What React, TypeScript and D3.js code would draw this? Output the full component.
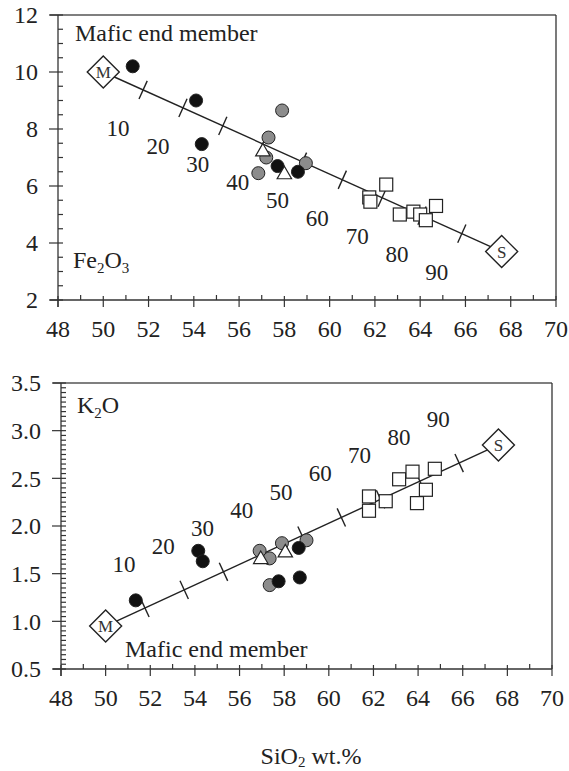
import React, { useEffect, useRef } from "react";
import * as d3 from "d3";

// SiO2 axis shared by both panels
const sio2Ticks = [48, 50, 52, 54, 56, 58, 60, 62, 64, 66, 68, 70];
const feTicks = [2, 4, 6, 8, 10, 12];
const kTicks = [0.5, 1.0, 1.5, 2.0, 2.5, 3.0, 3.5];
const mixPercents = [10, 20, 30, 40, 50, 60, 70, 80, 90];

// end members [SiO2, oxide]
const feMafic = [50, 10.0];
const feSilicic = [67.6, 3.7];
const kMafic = [50, 0.95];
const kSilicic = [67.6, 2.85];

// Fe2O3 samples
const feBlack = [[51.3, 10.2], [54.1, 9.0], [54.35, 7.47], [57.7, 6.7], [58.6, 6.5]];
const feGray = [[57.9, 8.65], [57.3, 7.7], [57.2, 7.0], [56.85, 6.45], [58.95, 6.8]];
const feTriangle = [[57.05, 7.2], [58.0, 6.4]];
const feSquare = [[61.75, 5.6], [61.8, 5.45], [62.5, 6.05], [63.1, 5.0], [63.7, 5.1], [64.0, 5.0], [64.25, 4.8], [64.7, 5.3]];

// K2O samples
const kBlack = [[51.35, 1.22], [54.15, 1.74], [54.35, 1.63], [57.75, 1.42], [58.7, 1.46], [58.65, 1.77]];
const kGray = [[56.9, 1.74], [57.35, 1.66], [57.9, 1.82], [59.0, 1.85], [57.35, 1.38]];
const kTriangle = [[56.95, 1.65], [58.05, 1.72]];
const kSquare = [[61.8, 2.31], [61.8, 2.16], [62.55, 2.26], [63.15, 2.49], [63.75, 2.57], [64.35, 2.38], [63.95, 2.24], [64.75, 2.6]];

const FONT = "'Liberation Serif', 'Times New Roman', serif";

function drawPanel(svg, o) {
  const x = d3.scaleLinear().domain([48, 70]).range([o.left, o.right]);
  const y = d3.scaleLinear().domain(o.yDomain).range([o.bottom, o.top]);
  const g = svg.append("g");
  const axisColor = "#333";

  // frame: top and right
  g.append("line").attr("x1", o.left - 8).attr("x2", o.right).attr("y1", o.top).attr("y2", o.top)
    .attr("stroke", "#555").attr("stroke-width", 1.5);
  g.append("line").attr("x1", o.right).attr("x2", o.right).attr("y1", o.top).attr("y2", o.bottom)
    .attr("stroke", axisColor).attr("stroke-width", 1.3);

  // x axis
  g.append("line").attr("x1", o.left - 8).attr("x2", o.right).attr("y1", o.bottom).attr("y2", o.bottom)
    .attr("stroke", axisColor).attr("stroke-width", 1.3);
  d3.range(48, 71, 1).forEach((v) => {
    const major = v % 2 === 0;
    g.append("line").attr("x1", x(v)).attr("x2", x(v))
      .attr("y1", o.bottom - (major ? 4 : 5)).attr("y2", o.bottom + (major ? 7 : 0))
      .attr("stroke", axisColor).attr("stroke-width", 1.2);
  });
  g.selectAll(".xl").data(sio2Ticks).join("text")
    .attr("x", (d) => x(d)).attr("y", o.bottom + 37)
    .attr("text-anchor", "middle").attr("font-family", FONT).attr("font-size", 24).attr("fill", "#222")
    .text((d) => d);

  // y axis
  g.append("line").attr("x1", o.left).attr("x2", o.left).attr("y1", o.top).attr("y2", o.bottom + 7)
    .attr("stroke", axisColor).attr("stroke-width", 1.3);
  const [y0, y1] = o.yDomain;
  const nMinor = Math.round((y1 - y0) / o.minorStep);
  for (let i = 0; i <= nMinor; i++) {
    const v = y0 + i * o.minorStep;
    const major = o.yTicks.some((t) => Math.abs(t - v) < 1e-6);
    g.append("line").attr("x1", o.left - (major ? 9 : 0)).attr("x2", o.left + 5)
      .attr("y1", y(v)).attr("y2", y(v)).attr("stroke", axisColor).attr("stroke-width", 1.2);
  }
  g.selectAll(".yl").data(o.yTicks).join("text")
    .attr("x", o.left - 20).attr("y", (d) => y(d)).attr("dy", "0.35em")
    .attr("text-anchor", "end").attr("font-family", FONT).attr("font-size", 24).attr("fill", "#222")
    .text((d) => o.yFormat(d));

  // mixing line
  const [mx, my] = [x(o.mafic[0]), y(o.mafic[1])];
  const [sx, sy] = [x(o.silicic[0]), y(o.silicic[1])];
  g.append("line").attr("x1", mx).attr("y1", my).attr("x2", sx).attr("y2", sy)
    .attr("stroke", "#222").attr("stroke-width", 1.4);
  const len = Math.hypot(sx - mx, sy - my);
  const px = -(sy - my) / len;
  const py = (sx - mx) / len;
  mixPercents.forEach((p) => {
    const f = p / 100;
    const cx = mx + f * (sx - mx);
    const cy = my + f * (sy - my);
    g.append("line").attr("x1", cx - px * 10).attr("y1", cy - py * 10)
      .attr("x2", cx + px * 10).attr("y2", cy + py * 10)
      .attr("stroke", "#222").attr("stroke-width", 1.4);
    g.append("text").attr("x", cx + o.labelOffset[0]).attr("y", cy + o.labelOffset[1]).attr("dy", "0.35em")
      .attr("text-anchor", "middle").attr("font-family", FONT).attr("font-size", 23).attr("fill", "#222")
      .text(p);
  });

  // samples
  const circle = (data, fill) =>
    g.append("g").selectAll("circle").data(data).join("circle")
      .attr("cx", (d) => x(d[0])).attr("cy", (d) => y(d[1])).attr("r", 6.5)
      .attr("fill", fill).attr("stroke", "#222").attr("stroke-width", 1);
  circle(o.gray, "#8c8c8c");
  circle(o.black, "#111");
  g.append("g").selectAll("path").data(o.triangles).join("path")
    .attr("d", d3.symbol(d3.symbolTriangle, 90)())
    .attr("transform", (d) => `translate(${x(d[0])},${y(d[1])})`)
    .attr("fill", "#fff").attr("stroke", "#222").attr("stroke-width", 1.2);
  g.append("g").selectAll("rect").data(o.squares).join("rect")
    .attr("x", (d) => x(d[0]) - 6.5).attr("y", (d) => y(d[1]) - 6.5)
    .attr("width", 13).attr("height", 13)
    .attr("fill", "#fff").attr("stroke", "#222").attr("stroke-width", 1.2);

  // end member diamonds
  [[o.mafic, "M"], [o.silicic, "S"]].forEach(([pt, lab]) => {
    const cx = x(pt[0]);
    const cy = y(pt[1]);
    g.append("path")
      .attr("d", `M${cx},${cy - 16}L${cx + 16},${cy}L${cx},${cy + 16}L${cx - 16},${cy}Z`)
      .attr("fill", "#fff").attr("stroke", "#222").attr("stroke-width", 1.4);
    g.append("text").attr("x", cx).attr("y", cy).attr("dy", "0.35em").attr("text-anchor", "middle")
      .attr("font-family", FONT).attr("font-size", 17).attr("fill", "#333").text(lab);
  });

  // annotations
  g.append("text").attr("x", o.maficText[0]).attr("y", o.maficText[1])
    .attr("font-family", FONT).attr("font-size", 24).attr("fill", "#222").text("Mafic end member");
  const t = g.append("text").attr("x", o.oxideText[0]).attr("y", o.oxideText[1])
    .attr("font-family", FONT).attr("font-size", 24).attr("fill", "#222");
  o.oxide.forEach(([s, sub]) => {
    if (sub) t.append("tspan").attr("font-size", 15).attr("dy", 5).text(s);
    else t.append("tspan").attr("dy", t.selectAll("tspan").size() ? -5 : 0).text(s);
  });
}

export default function App() {
  const ref = useRef(null);
  useEffect(() => {
    const svg = d3.select(ref.current);
    svg.selectAll("*").remove();
    svg.append("rect").attr("width", 569).attr("height", 771).attr("fill", "#fff");

    drawPanel(svg, {
      left: 58, right: 556, top: 15, bottom: 300,
      yDomain: [2, 12], yTicks: feTicks, minorStep: 0.5, yFormat: (d) => d,
      mafic: feMafic, silicic: feSilicic,
      black: feBlack, gray: feGray, triangles: feTriangle, squares: feSquare,
      labelOffset: [-25, 38],
      maficText: [75, 41], oxideText: [73, 273],
      oxide: [["Fe", false], ["2", true], ["O", false], ["3", true]],
    });
    drawPanel(svg, {
      left: 61, right: 552, top: 383, bottom: 669,
      yDomain: [0.5, 3.5], yTicks: kTicks, minorStep: 0.05, yFormat: d3.format(".1f"),
      mafic: kMafic, silicic: kSilicic,
      black: kBlack, gray: kGray, triangles: kTriangle, squares: kSquare,
      labelOffset: [-21, -44],
      maficText: [125, 657], oxideText: [77, 418],
      oxide: [["K", false], ["2", true], ["O", false]],
    });

    const title = svg.append("text").attr("x", 311).attr("y", 764).attr("text-anchor", "middle")
      .attr("font-family", FONT).attr("font-size", 24).attr("fill", "#222");
    title.append("tspan").text("SiO");
    title.append("tspan").attr("font-size", 15).attr("dy", 3).text("2");
    title.append("tspan").attr("dy", -3).text(" wt.%");
  }, []);

  return (
    <svg ref={ref} width={569} height={771}
      style={{ position: "absolute", left: 0, top: 0, display: "block" }} />
  );
}
